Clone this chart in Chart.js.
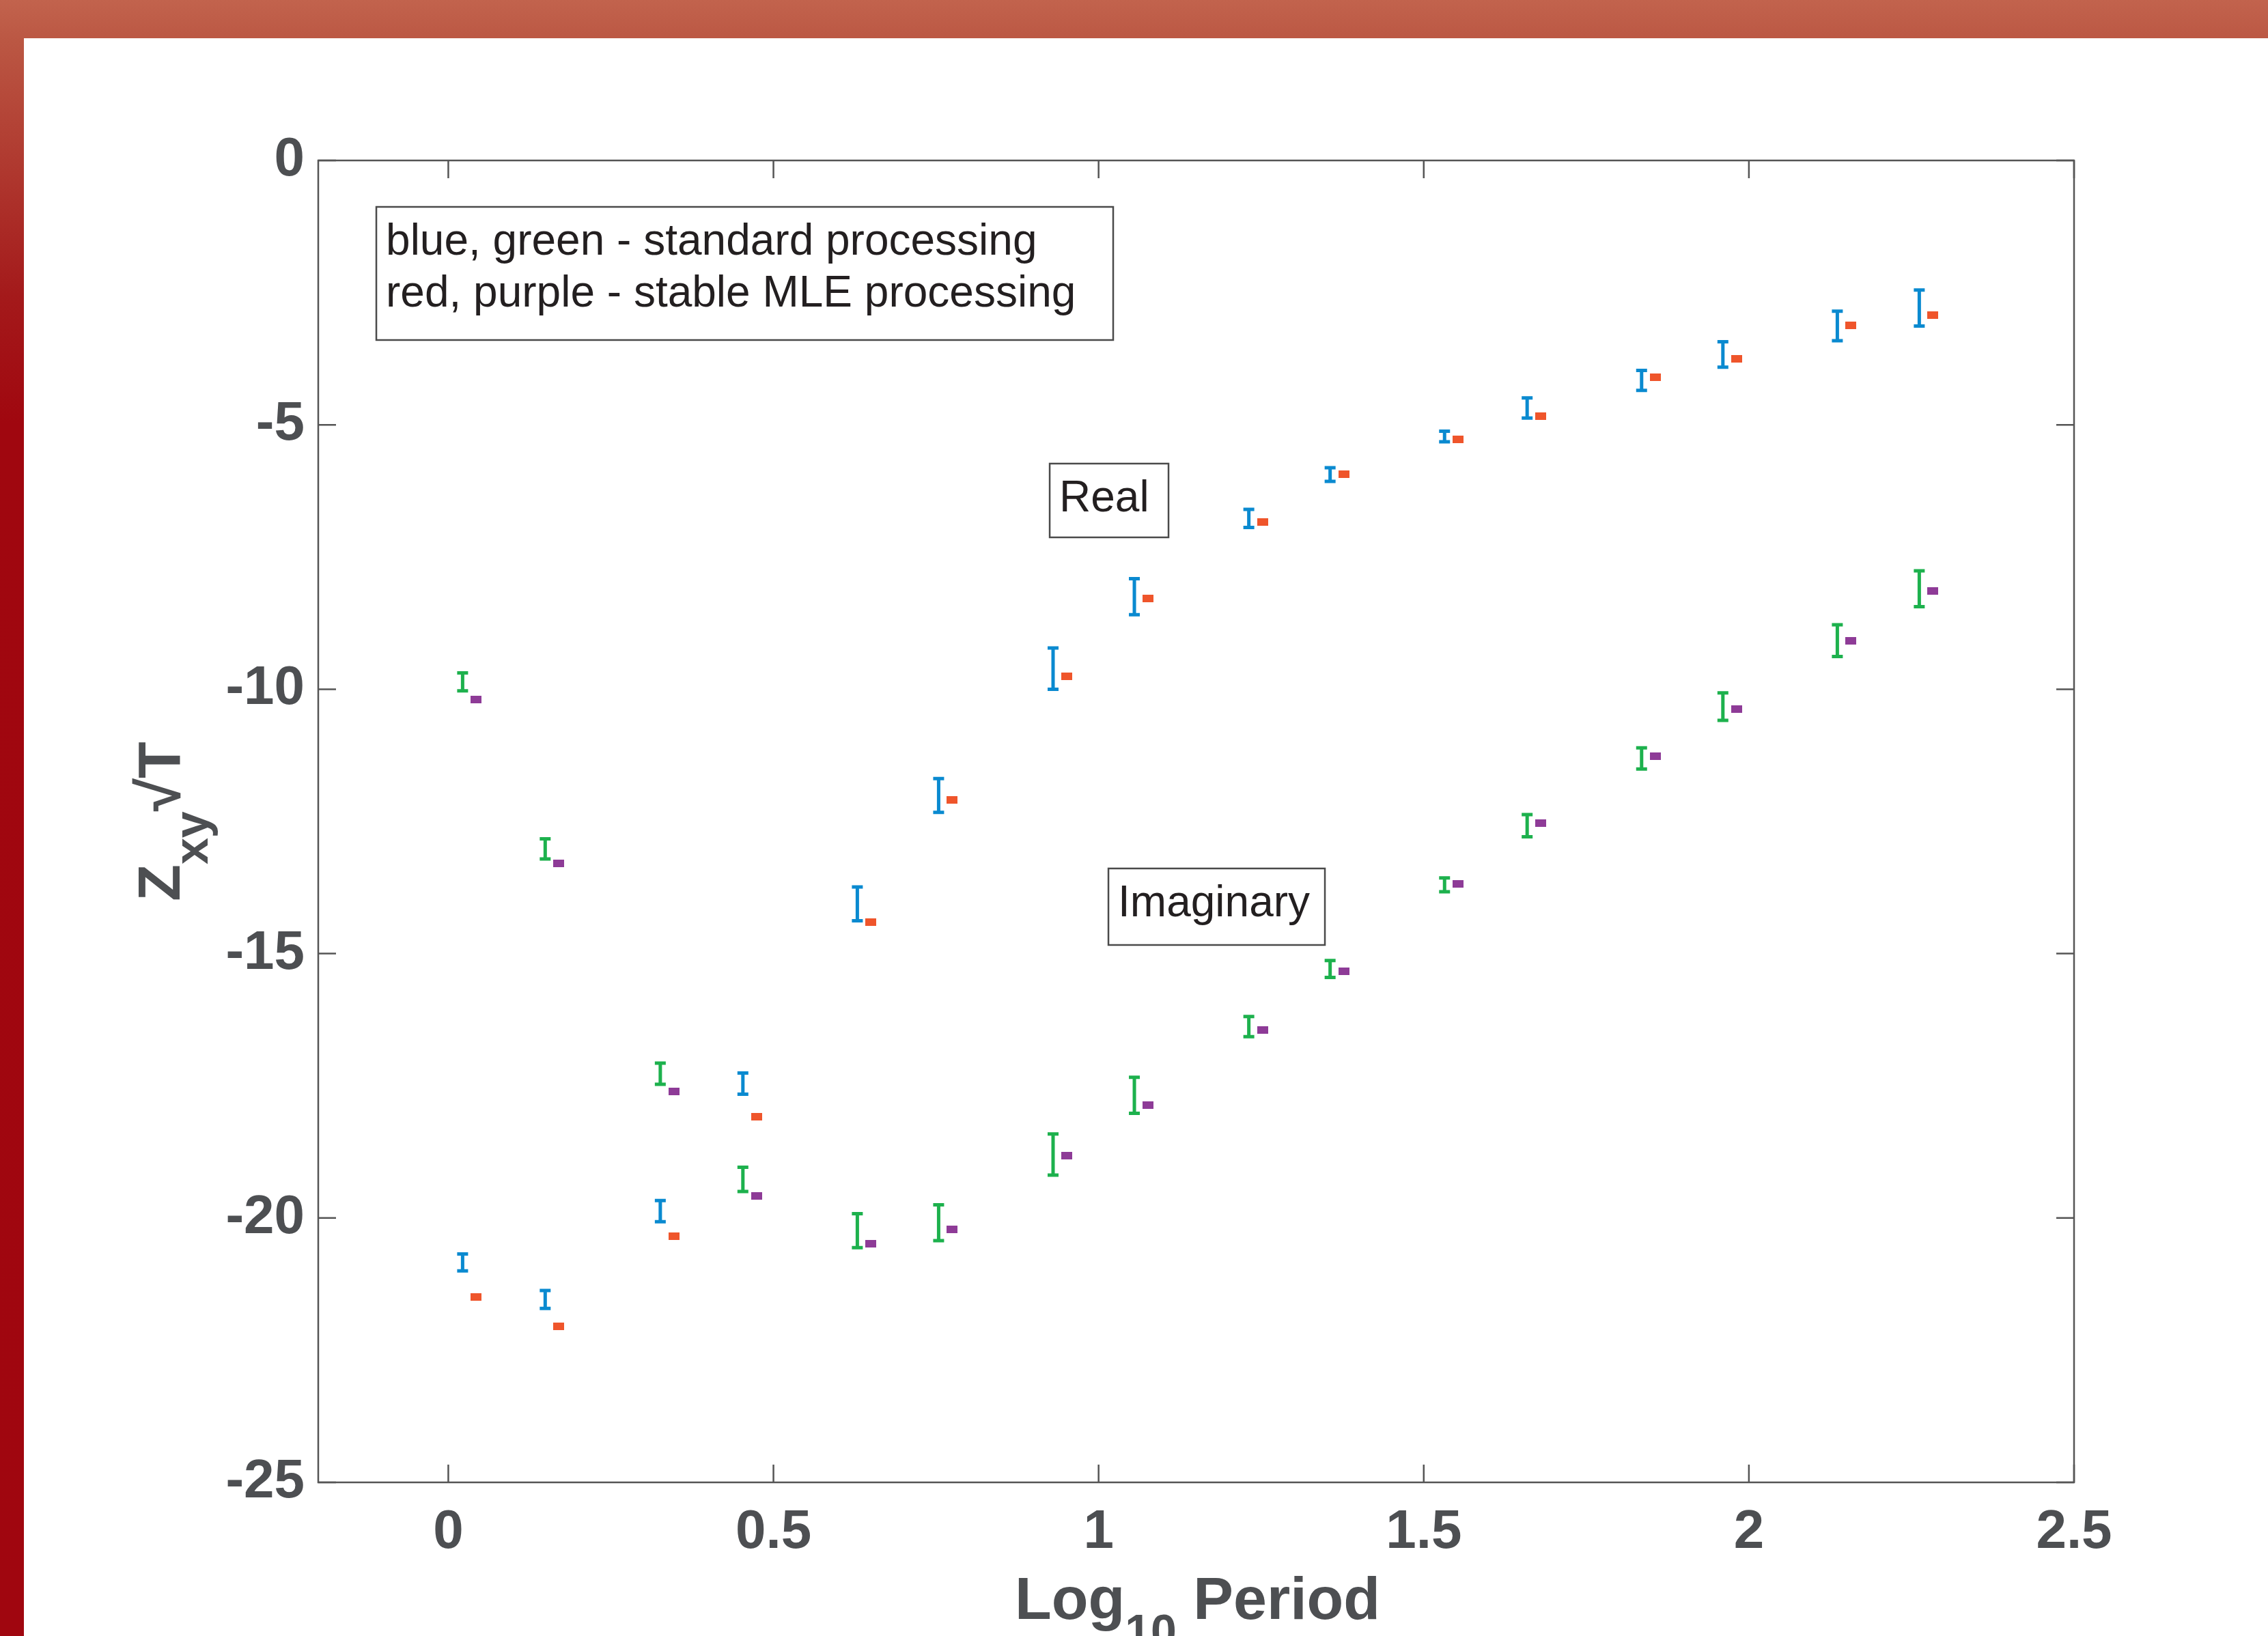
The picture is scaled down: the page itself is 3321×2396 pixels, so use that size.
<!DOCTYPE html>
<html>
<head>
<meta charset="utf-8">
<script src="https://cdn.jsdelivr.net/npm/chart.js@4.4.1/dist/chart.umd.min.js"></script>
<style>
  html, body { margin: 0; padding: 0; }
  body {
    width: 3321px; height: 2396px; position: relative; overflow: hidden;
    background: linear-gradient(to bottom, #c2634d 0px, #bb5743 60px, #a41a1b 430px, #a0070f 620px, #a0060f 100%);
  }
  #panel { position: absolute; left: 35px; top: 56px; right: 0; bottom: 0; background: #fff; }
  #chart { position: absolute; left: 0; top: 0; }
</style>
</head>
<body>
<div id="panel"></div>
<canvas id="chart" width="3321" height="2396"></canvas>
<script>
// log10 period (std points and the MLE points drawn just to their right)
const periodStd = [0.022, 0.149, 0.326, 0.453, 0.629, 0.754, 0.930, 1.055, 1.231, 1.356, 1.532, 1.659, 1.835, 1.960, 2.136, 2.262];
const periodMle = [0.043, 0.170, 0.347, 0.474, 0.650, 0.775, 0.951, 1.076, 1.252, 1.377, 1.553, 1.680, 1.856, 1.981, 2.157, 2.283];

const realStd    = [-20.84, -21.54, -19.87, -17.46, -14.06, -12.01, -9.61, -8.25, -6.77, -5.94, -5.22, -4.68, -4.16, -3.67, -3.13, -2.79];
const realStdErr = [0.16, 0.17, 0.20, 0.20, 0.32, 0.32, 0.39, 0.34, 0.17, 0.13, 0.10, 0.19, 0.19, 0.24, 0.28, 0.34];
const realMle    = [-21.50, -22.05, -20.35, -18.08, -14.41, -12.09, -9.76, -8.29, -6.84, -5.94, -5.28, -4.84, -4.10, -3.75, -3.12, -2.92];

const imagStd    = [-9.86, -13.02, -17.27, -19.27, -20.24, -20.09, -18.80, -17.68, -16.38, -15.29, -13.70, -12.58, -11.31, -10.33, -9.08, -8.10];
const imagStdErr = [0.17, 0.19, 0.20, 0.23, 0.32, 0.34, 0.39, 0.34, 0.19, 0.16, 0.13, 0.21, 0.20, 0.26, 0.30, 0.34];
const imagMle    = [-10.20, -13.29, -17.61, -19.58, -20.49, -20.21, -18.82, -17.86, -16.44, -15.34, -13.68, -12.53, -11.27, -10.37, -9.08, -8.14];

const xTicks = [0, 0.5, 1, 1.5, 2, 2.5];
const yTicks = [0, -5, -10, -15, -20, -25];

const notes = [
  { lines: ['blue, green - standard processing', 'red, purple - stable MLE processing'], x0: -0.1107, y0: -0.878, x1: 1.0224, y1: -3.396 },
  { lines: ['Real'], x0: 0.9248, y0: -5.733, x1: 1.1075, y1: -7.128 },
  { lines: ['Imaginary'], x0: 1.0151, y0: -13.39, x1: 1.348, y1: -14.837 }
];

const GRAY = '#4d4f52';
const FONT = "'Liberation Sans', Arial, sans-serif";

const pts = (xs, ys) => xs.map((x, i) => ({ x, y: ys[i] }));

function dash(color) {
  const c = document.createElement('canvas');
  c.width = 16; c.height = 11;
  const g = c.getContext('2d');
  g.fillStyle = color;
  g.fillRect(0, 0, 16, 11);
  return c;
}

const errorBars = {
  id: 'errorBars',
  afterDatasetsDraw(chart) {
    const ctx = chart.ctx, ys = chart.scales.y;
    chart.data.datasets.forEach((ds, i) => {
      if (!ds.errors) return;
      const meta = chart.getDatasetMeta(i);
      ctx.save();
      ctx.strokeStyle = ds.barColor;
      ctx.lineWidth = 5;
      meta.data.forEach((p, j) => {
        const top = ys.getPixelForValue(ds.data[j].y + ds.errors[j]);
        const bot = ys.getPixelForValue(ds.data[j].y - ds.errors[j]);
        ctx.beginPath();
        ctx.moveTo(p.x, top); ctx.lineTo(p.x, bot);
        ctx.moveTo(p.x - 8, top); ctx.lineTo(p.x + 8, top);
        ctx.moveTo(p.x - 8, bot); ctx.lineTo(p.x + 8, bot);
        ctx.stroke();
      });
      ctx.restore();
    });
  }
};

// MATLAB style box with inward ticks on all four sides
const frame = {
  id: 'frame',
  beforeDatasetsDraw(chart) {
    const { ctx, chartArea: a, scales } = chart;
    const len = 26;
    ctx.save();
    ctx.strokeStyle = '#555';
    ctx.lineWidth = 2.5;
    ctx.strokeRect(a.left, a.top, a.right - a.left, a.bottom - a.top);
    ctx.beginPath();
    xTicks.forEach(v => {
      const px = scales.x.getPixelForValue(v);
      ctx.moveTo(px, a.bottom); ctx.lineTo(px, a.bottom - len);
      ctx.moveTo(px, a.top); ctx.lineTo(px, a.top + len);
    });
    yTicks.forEach(v => {
      const py = scales.y.getPixelForValue(v);
      ctx.moveTo(a.left, py); ctx.lineTo(a.left + len, py);
      ctx.moveTo(a.right, py); ctx.lineTo(a.right - len, py);
    });
    ctx.stroke();
    ctx.restore();
  }
};

function richText(ctx, parts, size, subSize, subShift) {
  const w = parts.map(p => {
    ctx.font = 'bold ' + (p.sub ? subSize : size) + 'px ' + FONT;
    return ctx.measureText(p.t).width;
  });
  let x = -w.reduce((s, v) => s + v, 0) / 2;
  parts.forEach((p, i) => {
    ctx.font = 'bold ' + (p.sub ? subSize : size) + 'px ' + FONT;
    ctx.fillText(p.t, x, p.sub ? subShift : 0);
    x += w[i];
  });
}

const titles = {
  id: 'titles',
  afterDraw(chart) {
    const { ctx, chartArea: a } = chart;
    ctx.save();
    ctx.fillStyle = GRAY;
    ctx.textBaseline = 'alphabetic';
    ctx.textAlign = 'left';
    ctx.save();
    ctx.translate((a.left + a.right) / 2 + 2, a.bottom + 200);
    richText(ctx, [{ t: 'Log' }, { t: '10', sub: true }, { t: ' Period' }], 88, 68, 41);
    ctx.restore();
    ctx.save();
    ctx.translate(a.left - 203, (a.top + a.bottom) / 2);
    ctx.rotate(-Math.PI / 2);
    richText(ctx, [{ t: 'Z' }, { t: 'xy', sub: true }, { t: '\u221AT' }], 88, 70, 41);
    ctx.restore();
    ctx.restore();
  }
};

const annotations = {
  id: 'annotations',
  afterDatasetsDraw(chart) {
    const { ctx, scales } = chart;
    ctx.save();
    notes.forEach(n => {
      const l = scales.x.getPixelForValue(n.x0), r = scales.x.getPixelForValue(n.x1);
      const t = scales.y.getPixelForValue(n.y0), b = scales.y.getPixelForValue(n.y1);
      ctx.fillStyle = '#fff';
      ctx.fillRect(l, t, r - l, b - t);
      ctx.strokeStyle = '#4a4a4a';
      ctx.lineWidth = 2.5;
      ctx.strokeRect(l, t, r - l, b - t);
      ctx.fillStyle = '#231f20';
      ctx.font = '64px ' + FONT;
      ctx.textBaseline = 'alphabetic';
      ctx.textAlign = 'left';
      n.lines.forEach((s, i) => ctx.fillText(s, l + 14, t + 70 + i * 76));
    });
    ctx.restore();
  }
};

new Chart(document.getElementById('chart'), {
  type: 'scatter',
  data: {
    datasets: [
      { label: 'Real std', data: pts(periodStd, realStd), errors: realStdErr, barColor: '#0a8ad0', pointRadius: 0 },
      { label: 'Real MLE', data: pts(periodMle, realMle), pointStyle: dash('#ef552b') },
      { label: 'Imag std', data: pts(periodStd, imagStd), errors: imagStdErr, barColor: '#1db14d', pointRadius: 0 },
      { label: 'Imag MLE', data: pts(periodMle, imagMle), pointStyle: dash('#8e3b97') }
    ]
  },
  options: {
    responsive: false,
    animation: false,
    devicePixelRatio: 1,
    layout: { padding: { left: 0, top: 235, right: 284, bottom: 0 } },
    plugins: { legend: { display: false }, tooltip: { enabled: false } },
    scales: {
      x: {
        type: 'linear', min: -0.2, max: 2.5,
        afterBuildTicks: s => { s.ticks = xTicks.map(v => ({ value: v })); },
        afterFit: s => { s.height = 225; },
        grid: { display: false, drawTicks: false },
        border: { display: false },
        ticks: { color: GRAY, padding: 26, font: { family: FONT, weight: 'bold', size: 80 }, callback: v => String(v) }
      },
      y: {
        type: 'linear', min: -25, max: 0,
        afterBuildTicks: s => { s.ticks = yTicks.map(v => ({ value: v })); },
        afterFit: s => { s.width = 466; },
        grid: { display: false, drawTicks: false },
        border: { display: false },
        ticks: { color: GRAY, padding: 20, font: { family: FONT, weight: 'bold', size: 80 }, callback: v => String(v) }
      }
    }
  },
  plugins: [frame, errorBars, annotations, titles]
});
</script>
</body>
</html>
